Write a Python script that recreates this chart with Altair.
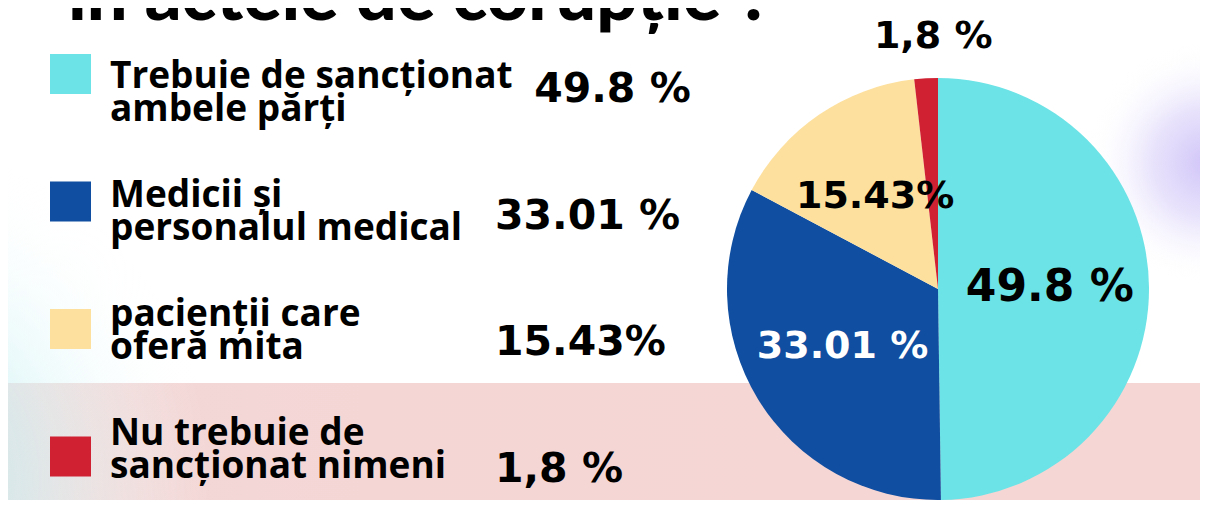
import altair as alt
import pandas as pd

# ---------------- data ----------------
categories = [
    "Trebuie de sancționat\nambele părți",
    "Medicii și\npersonalul medical",
    "pacienții care\noferă mita",
    "Nu trebuie de\nsancționat nimeni",
]
values = [49.8, 33.01, 15.43, 1.8]
value_labels = ["49.8 %", "33.01 %", "15.43%", "1,8 %"]
colors = ["#6ce3e6", "#0f4ea0", "#fde09e", "#cf2132"]
title_text = "în actele de corupție ?"

# ---------------- layout ----------------
OFF = 8                      # page margin of the html page
W, H = 1208 - 2 * OFF, 508 - 2 * OFF
CX, CY, R = 938 - OFF, 289 - OFF, 211
BAND_TOP = 383 - OFF

TITLE_FONT = "Lato"
LABEL_FONT = "Open Sans"
PCT_FONT = "DejaVu Sans"

n = len(categories)
idx = list(range(n))
df = pd.DataFrame({"cat": categories, "value": values, "label": value_labels, "idx": idx})

# legend rows computed from the row index
df["sx"] = 50 - OFF
df["sx2"] = 91 - OFF
df["sy"] = [54 + 127.5 * i - OFF for i in idx]
df["sy2"] = df["sy"] + 40
df["lx"] = 110 - OFF
df["ly"] = [88 + 119 * i - OFF for i in idx]
maxlen = [max(len(s) for s in c.split("\n")) for c in categories]
df["px"] = [max(495, 110 + 20.2 * m) - OFF for m in maxlen]
df["py"] = [102 + 126.5 * i - OFF for i in idx]
# pie label radius: inside for big slices, outside for tiny ones
df["lr"] = [R * 0.53 if v >= 5 else R + 41 for v in values]

one = pd.DataFrame({"t": [title_text]})

# ---------------- background ----------------
band = alt.Chart(one).mark_rect(
    color=alt.LinearGradient(
        gradient="linear",
        stops=[
            alt.GradientStop(color="#f1d8d7", offset=0),
            alt.GradientStop(color="#f4d6d5", offset=0.3),
            alt.GradientStop(color="#f6d6d4", offset=1),
        ],
        x1=0, x2=1, y1=0, y2=0,
    )
).encode(x=alt.value(0), x2=alt.value(W), y=alt.value(BAND_TOP), y2=alt.value(H))

cyan_glow = alt.Chart(one).mark_rect(
    color=alt.RadialGradient(
        gradient="radial",
        stops=[
            alt.GradientStop(color="rgba(196,238,242,0.95)", offset=0),
            alt.GradientStop(color="rgba(206,242,245,0.6)", offset=0.45),
            alt.GradientStop(color="rgba(255,255,255,0)", offset=1),
        ],
        x1=0.1, y1=0.55, r1=0, x2=0.1, y2=0.55, r2=0.55,
    )
).encode(x=alt.value(-200), x2=alt.value(420), y=alt.value(130), y2=alt.value(750))

purple_glow = alt.Chart(one).mark_rect(
    color=alt.RadialGradient(
        gradient="radial",
        stops=[
            alt.GradientStop(color="rgba(208,196,248,1)", offset=0),
            alt.GradientStop(color="rgba(222,214,250,0.7)", offset=0.45),
            alt.GradientStop(color="rgba(255,255,255,0)", offset=1),
        ],
        x1=0.5, y1=0.5, r1=0, x2=0.5, y2=0.5, r2=0.5,
    )
).encode(x=alt.value(1207 - OFF - 120), x2=alt.value(1207 - OFF + 120),
         y=alt.value(163 - OFF - 120), y2=alt.value(163 - OFF + 120))

base = alt.Chart(df)
color_scale = alt.Scale(domain=categories, range=colors)

# ---------------- pie ----------------
pie = base.mark_arc(outerRadius=R).encode(
    theta=alt.Theta("value:Q", stack=True),
    color=alt.Color("cat:N", scale=color_scale, legend=None),
    order=alt.Order("idx:Q"),
    x=alt.value(CX),
    y=alt.value(CY),
)

pie_text = base.mark_text(
    font=PCT_FONT, fontWeight="bold", align="center", baseline="middle",
    dx=alt.expr("datum.value < 5 ? -19 : 0"),
).encode(
    theta=alt.Theta("value:Q", stack=True),
    radius=alt.Radius("lr:Q", scale=None),
    text="label:N",
    order=alt.Order("idx:Q"),
    size=alt.condition(alt.datum.value > 40, alt.value(44), alt.value(38)),
    color=alt.condition(alt.datum.idx == 1, alt.value("#ffffff"), alt.value("#000000")),
    x=alt.value(CX),
    y=alt.value(CY),
)

# ---------------- legend ----------------
squares = base.mark_rect().encode(
    x=alt.X("sx:Q", scale=None, axis=None),
    x2="sx2:Q",
    y=alt.Y("sy:Q", scale=None, axis=None),
    y2="sy2:Q",
    color=alt.Color("cat:N", scale=color_scale, legend=None),
)

labels = base.mark_text(
    font=LABEL_FONT, fontSize=37, fontWeight="bold", align="left",
    baseline="alphabetic", lineBreak="\n", lineHeight=33, color="#000000",
).encode(
    x=alt.X("lx:Q", scale=None, axis=None),
    y=alt.Y("ly:Q", scale=None, axis=None),
    text="cat:N",
)

pcts = base.mark_text(
    font=PCT_FONT, fontSize=41, fontWeight="bold", align="left",
    baseline="alphabetic", color="#000000",
).encode(
    x=alt.X("px:Q", scale=None, axis=None),
    y=alt.Y("py:Q", scale=None, axis=None),
    text="label:N",
)

title = alt.Chart(one).mark_text(
    font=TITLE_FONT, fontSize=72, fontWeight=900, align="left",
    baseline="alphabetic", color="#000000",
).encode(x=alt.value(68 - OFF), y=alt.value(20 - OFF), text="t:N")

chart = alt.layer(
    band, cyan_glow, purple_glow, pie, pie_text, squares, labels, pcts, title
).properties(
    width=W, height=H, autosize=alt.AutoSizeParams(type="none"), padding=0,
    background="#ffffff",
).configure_view(strokeWidth=0)

chart.save("out.html", embed_options={"renderer": "svg", "actions": False})
